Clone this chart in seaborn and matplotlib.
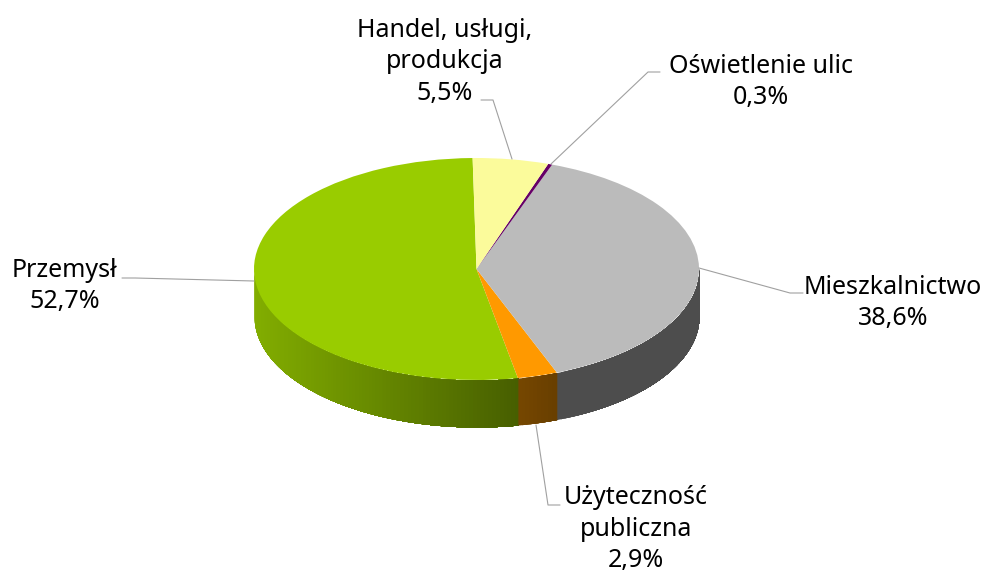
import numpy as np
import matplotlib
matplotlib.use('Agg')
import matplotlib.pyplot as plt
import seaborn as sns

# Shares of electricity use, order as drawn counterclockwise from the top
categories = ['Przemysł', 'Użyteczność\npubliczna', 'Mieszkalnictwo', 'Oświetlenie ulic', 'Handel, usługi,\nprodukcja']
shares = [52.7, 2.9, 38.6, 0.3, 5.5]
colors = ['#99CC00', '#FF9900', '#BBBBBB', '#660066', '#FBFB9B']

sns.set_theme(style='white')
plt.rcParams['font.family'] = ['Noto Sans', 'DejaVu Sans']

W, H = 982, 572
CX, CY, RX, RY, DEPTH = 476.5, 269, 222.5, 111, 47
START = 91


def px(x, y):
    # picture pixels to pie units
    return (x - CX) / RX, (CY - y) / RY


fig = plt.figure(figsize=(W / 100, H / 100), dpi=100)
ax = fig.add_axes([0, 0, 1, 1])
wedges, _ = ax.pie(shares, colors=sns.color_palette(colors), startangle=START,
                   counterclock=True, wedgeprops={'linewidth': 0})
ax.set_aspect('auto')
ax.set_xlim(px(0, 0)[0], px(W, 0)[0])
ax.set_ylim(px(0, H)[1], px(0, 0)[1])


def shade(x):
    # side wall darkens from left to right, flat after x=0.35
    return 0.85 - 0.44 * (min(x, 0.35) + 1) / 1.35


# side wall, only the front half (180..360 degrees) is visible
# each strip runs to the end of its slice and the next one paints over it, so no seams
depth = DEPTH / RY
angle = START
for share, col in zip(shares, sns.color_palette(colors)):
    end = angle + share * 3.6
    for off in (0, 360):
        lo = max(angle - off, 180)
        hi = min(end - off, 360)
        if lo >= hi:
            continue
        for a0 in np.arange(lo, hi, 1.0):
            t = np.append(np.arange(a0, hi, 1.0), hi)
            xs = np.cos(np.radians(t))
            ys = np.sin(np.radians(t))
            c = np.array(col) * shade(np.cos(np.radians(a0 + 0.5)))
            ax.fill_between(xs, ys, ys - depth, color=c, lw=0, zorder=0.5)
    angle = end

# labels: centre of the text block and leader line, in picture pixels
label_pos = [(65, 286), (636, 529), (893, 303), (761, 82), (445, 62)]
leaders = [
    [(122, 278), (135, 278), (254, 281)],
    [(536, 425), (548, 505), (560, 505)],
    [(699, 268), (790, 293), (803, 293)],
    [(660, 72), (648, 72), (551, 164)],
    [(481, 100), (493, 100), (512, 159)],
]

for name, share, pos, line in zip(categories, shares, label_pos, leaders):
    text = f'{name}\n{share:.1f}%'.replace('.', ',')
    x, y = px(*pos)
    ax.text(x, y, text, ha='center', va='center', fontsize=18, color='black',
            linespacing=1.36, clip_on=False)
    pts = np.array([px(*p) for p in line])
    ax.plot(pts[:, 0], pts[:, 1], color='#A0A0A0', lw=0.8, zorder=3)

fig.savefig('out.png', dpi=100, facecolor='white')
